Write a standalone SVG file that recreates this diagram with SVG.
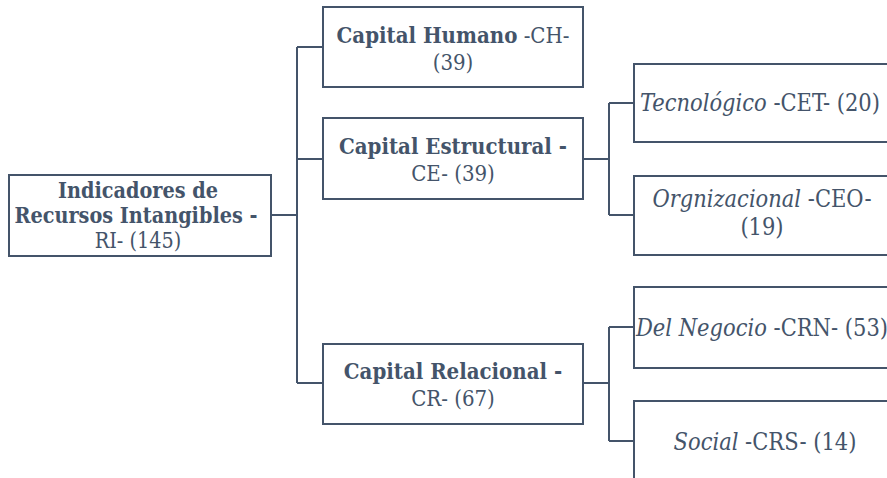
<svg xmlns="http://www.w3.org/2000/svg" width="887" height="478" viewBox="0 0 887 478">
<style>
.box{fill:#ffffff;stroke:#44546a;stroke-width:2}
.ln{fill:none;stroke:#44546a;stroke-width:2}
.t{font-family:"DejaVu Serif Condensed","DejaVu Serif","Liberation Serif",serif;font-size:22px;fill:#44546a;text-anchor:middle}
.r{font-size:23.4px}
.s{font-size:21.4px}
.b{font-weight:bold}
.i{font-style:italic}
</style>
<rect width="887" height="478" fill="#ffffff"/>
<g id="connectors">
<path class="ln" d="M271 215 H297 M297 47 V383 M297 47 H323 M297 159 H323 M297 383 H323"/>
<path class="ln" d="M583 159 H609 M609 103 V215 M609 103 H634 M609 215 H634"/>
<path class="ln" d="M583 383 H609 M609 327 V441 M609 327 H634 M609 441 H634"/>
</g>
<g id="node-RI">
<rect class="box" x="9" y="175" width="262" height="81"/>
<text class="t s b" x="138" y="198">Indicadores de</text>
<text class="t s b" x="136" y="223">Recursos Intangibles -</text>
<text class="t s" x="138" y="248">RI- (145)</text>
</g>
<g id="node-CH">
<rect class="box" x="323" y="7" width="260" height="80"/>
<text class="t" x="453" y="42.5"><tspan class="b">Capital Humano</tspan> -CH-</text>
<text class="t" x="453" y="70">(39)</text>
</g>
<g id="node-CE">
<rect class="box" x="323" y="118" width="260" height="81"/>
<text class="t b" x="453" y="154">Capital Estructural -</text>
<text class="t" x="453" y="181">CE- (39)</text>
</g>
<g id="node-CR">
<rect class="box" x="323" y="344" width="260" height="80"/>
<text class="t b" x="453" y="379">Capital Relacional -</text>
<text class="t" x="453" y="406">CR- (67)</text>
</g>
<g id="node-CET">
<rect class="box" x="634" y="64" width="262" height="78"/>
<text class="t r" x="760" y="111"><tspan class="i">Tecnológico</tspan> -CET- (20)</text>
</g>
<g id="node-CEO">
<rect class="box" x="634" y="176" width="262" height="79"/>
<text class="t r" x="762" y="206.5"><tspan class="i">Orgnizacional</tspan> -CEO-</text>
<text class="t r" x="762" y="234.5">(19)</text>
</g>
<g id="node-CRN">
<rect class="box" x="634" y="287" width="262" height="81"/>
<text class="t r" x="762" y="336"><tspan class="i">Del Negocio</tspan> -CRN- (53)</text>
</g>
<g id="node-CRS">
<rect class="box" x="634" y="401" width="262" height="81"/>
<text class="t r" x="765" y="450"><tspan class="i">Social</tspan> -CRS- (14)</text>
</g>
</svg>
